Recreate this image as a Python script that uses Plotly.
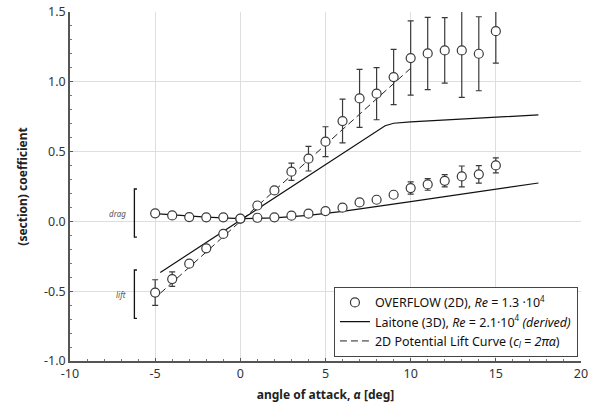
import plotly.graph_objects as go

# ---------------- data ----------------
alpha = [-5, -4, -3, -2, -1, 0, 1, 2, 3, 4, 5, 6, 7, 8, 9, 10, 11, 12, 13, 14, 15]
ovf_cl = [-0.51, -0.413, -0.303, -0.193, -0.090, 0.020, 0.114, 0.222, 0.356, 0.449, 0.571,
          0.719, 0.881, 0.915, 1.034, 1.170, 1.203, 1.225, 1.225, 1.201, 1.363]
ovf_cl_err = [0.092, 0.052, 0, 0, 0, 0, 0, 0, 0.062, 0.088, 0.107,
              0.157, 0.208, 0.187, 0.198, 0.266, 0.259, 0.235, 0.337, 0.265, 0.229]
ovf_cd = [0.058, 0.043, 0.031, 0.029, 0.029, 0.019, 0.026, 0.029, 0.041, 0.055, 0.074,
          0.098, 0.136, 0.155, 0.191, 0.239, 0.265, 0.291, 0.322, 0.337, 0.401]
ovf_cd_err = [0, 0, 0, 0, 0, 0, 0, 0, 0, 0, 0,
              0, 0, 0, 0, 0.044, 0.042, 0.044, 0.075, 0.063, 0.054]

lait_lift_alpha = [-4.7, 0, 8, 8.5, 9, 9.5, 10, 17.5]
lait_lift_cl = [-0.366, 0.010, 0.648, 0.685, 0.703, 0.709, 0.713, 0.763]

lait_drag_alpha = [-5, -4, -3, -2, -1, 0, 2, 4, 6, 8, 10, 12, 14, 16, 17.5]
lait_drag_cd = [0.055, 0.045, 0.037, 0.030, 0.025, 0.020, 0.025, 0.043, 0.072, 0.105,
                0.142, 0.178, 0.213, 0.249, 0.275]

pot_alpha = [-4.7, 10]
pot_cl = [-0.515, 1.097]

x_ticks = [-10, -5, 0, 5, 10, 15, 20]
x_ticktext = ["-10", "-5", "0", "5", "10", "15", "20"]
y_ticks = [-1.0, -0.5, 0.0, 0.5, 1.0, 1.5]
y_ticktext = ["-1.0", "-0.5", "0.0", "0.5", "1.0", "1.5"]

bracket_x = -6.22
bracket_drag = [-0.112, 0.232]
bracket_lift = [-0.694, -0.348]

# ---------------- figure ----------------
FONT = "Noto Sans"
DARK = "#3a3a3a"
SUP = "<sup><span style='font-size:8px'>4</span></sup>"
marker_style = dict(symbol="circle", size=9, color="white", line=dict(color=DARK, width=1.2))

fig = go.Figure()

fig.add_trace(go.Scatter(
    x=pot_alpha, y=pot_cl, mode="lines",
    line=dict(color="#222", width=1, dash="7px,4px"),
    name="2D Potential Lift Curve (<i>c<sub><span style='font-size:8px'>l</span></sub></i> = <i>2πα</i>)",
    legendrank=3))

fig.add_trace(go.Scatter(
    x=lait_lift_alpha, y=lait_lift_cl, mode="lines",
    line=dict(color="#111", width=1.2),
    name="Laitone (3D), <i>Re</i> = 2.1·10" + SUP + " <i>(derived)</i>",
    legendrank=2))
fig.add_trace(go.Scatter(
    x=lait_drag_alpha, y=lait_drag_cd, mode="lines",
    line=dict(color="#111", width=1.2), showlegend=False))

fig.add_trace(go.Scatter(
    x=alpha, y=ovf_cd, mode="markers", marker=marker_style,
    error_y=dict(type="data", array=ovf_cd_err, color=DARK, thickness=1.2, width=3),
    showlegend=False))
fig.add_trace(go.Scatter(
    x=alpha, y=ovf_cl, mode="markers", marker=marker_style,
    error_y=dict(type="data", array=ovf_cl_err, color=DARK, thickness=1.2, width=3),
    name="OVERFLOW (2D), <i>Re</i> = 1.3 ·10" + SUP,
    legendrank=1))

# brackets
for lo, hi in (bracket_drag, bracket_lift):
    fig.add_shape(type="path", xref="x", yref="y",
                  path=f"M {bracket_x+0.15},{hi} L {bracket_x},{hi} L {bracket_x},{lo} L {bracket_x+0.15},{lo}",
                  line=dict(color="#111", width=1.3))

fig.add_annotation(x=bracket_x, y=sum(bracket_drag) / 2, xref="x", yref="y",
                   text="<i>drag</i>", showarrow=False, xanchor="right", xshift=-6,
                   font=dict(size=8, color="#555", family=FONT))
fig.add_annotation(x=bracket_x, y=sum(bracket_lift) / 2, xref="x", yref="y",
                   text="<i>lift</i>", showarrow=False, xanchor="right", xshift=-6,
                   font=dict(size=8, color="#555", family=FONT))

fig.update_layout(
    width=595, height=406,
    margin=dict(l=70, r=14, t=12, b=45),
    paper_bgcolor="white", plot_bgcolor="white",
    font=dict(family=FONT, color="#333", size=12),
    legend=dict(x=0.994, y=0.012, xanchor="right", yanchor="bottom",
                bgcolor="white", bordercolor="#444", borderwidth=1,
                font=dict(size=12.5, color="#111"),
                tracegroupgap=0, itemwidth=30),
    showlegend=True,
)
fig.update_xaxes(
    range=[-10, 20], tickvals=x_ticks, ticktext=x_ticktext, automargin=False,
    showgrid=True, gridcolor="#dedede", gridwidth=1, zeroline=False,
    showline=True, linecolor="#555", linewidth=1.5,
    ticks="inside", ticklen=3, tickcolor="#555",
    minor=dict(dtick=1, ticks="inside", ticklen=2, tickcolor="#777", showgrid=False),
    tickfont=dict(size=12.5, color="#333"),
    title=dict(text="<b>angle of attack, <i>α</i> [deg]</b>", font=dict(size=12, color="#222"), standoff=10),
)
fig.update_yaxes(
    range=[-1, 1.5], tickvals=y_ticks, ticktext=y_ticktext, automargin=False,
    showgrid=True, gridcolor="#dedede", gridwidth=1, zeroline=False,
    showline=True, linecolor="#555", linewidth=1.5,
    ticks="inside", ticklen=3, tickcolor="#555",
    minor=dict(dtick=0.1, ticks="inside", ticklen=2, tickcolor="#777", showgrid=False),
    tickfont=dict(size=12.5, color="#333"),
    title=dict(text="<b>(section) coefficient</b>", font=dict(size=12, color="#222"), standoff=14),
)

fig.write_html("out.html")
